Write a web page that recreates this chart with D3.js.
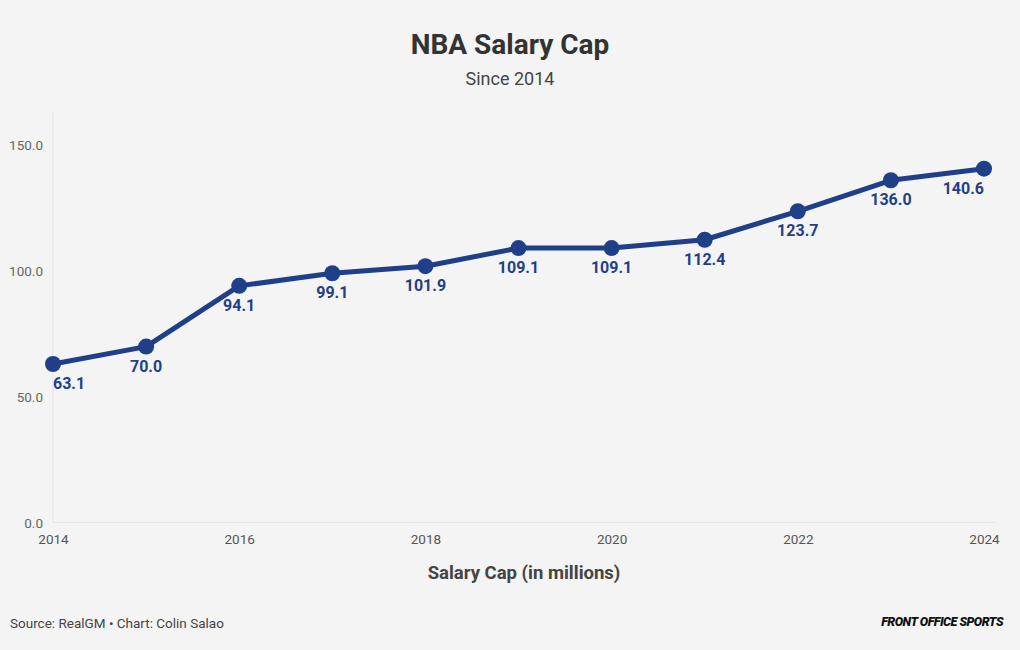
<!DOCTYPE html>
<html><head><meta charset="utf-8">
<script src="https://cdn.jsdelivr.net/npm/d3@7"></script>
<style>
body{margin:0;background:#f4f4f4;}
svg{display:block;font-family:Roboto,"Noto Sans",sans-serif;}
</style></head><body>
<svg id="c" width="1020" height="650"></svg>
<script>
const years = [2014,2015,2016,2017,2018,2019,2020,2021,2022,2023,2024];
const salaryCap = [63.1,70.0,94.1,99.1,101.9,109.1,109.1,112.4,123.7,136.0,140.6];
const yTicks = [0,50,100,150];
const xTicks = [2014,2016,2018,2020,2022,2024];

const svg = d3.select("#c");
svg.append("rect").attr("width",1020).attr("height",650).attr("fill","#f4f4f4");

const x = d3.scaleLinear().domain([2014,2024]).range([53,984]);
const y = d3.scaleLinear().domain([0,150]).range([523,145]);

svg.append("text").attr("x",510).attr("y",54).attr("text-anchor","middle")
  .attr("font-size",28).attr("font-weight",700).attr("fill","#333").text("NBA Salary Cap");
svg.append("text").attr("x",510).attr("y",85).attr("text-anchor","middle")
  .attr("font-size",18).attr("fill","#444").text("Since 2014");

// grid
svg.append("line").attr("x1",53).attr("x2",53).attr("y1",112).attr("y2",522)
  .attr("stroke","#e6e6e6").attr("stroke-width",1);
svg.append("line").attr("x1",53).attr("x2",996).attr("y1",522.5).attr("y2",522.5)
  .attr("stroke","#e6e6e6").attr("stroke-width",1);

// y axis
const ya = svg.append("g").attr("transform","translate(43,0)")
  .call(d3.axisLeft(y).tickValues(yTicks).tickFormat(d3.format(".1f")).tickSize(0).tickPadding(0));
ya.select(".domain").remove();
ya.selectAll("text").attr("font-size",13.5).attr("fill","#666").attr("font-family","Roboto,sans-serif");

// x axis
const xa = svg.append("g").attr("transform","translate(0,534)")
  .call(d3.axisBottom(x).tickValues(xTicks).tickFormat(d3.format("d")).tickSize(0).tickPadding(0));
xa.select(".domain").remove();
xa.selectAll("text").attr("font-size",13.5).attr("fill","#555").attr("font-family","Roboto,sans-serif");

const data = years.map((yr,i)=>({yr,v:salaryCap[i]}));
const col = "#1f3f88";
svg.append("path").datum(data)
  .attr("d",d3.line().x(d=>x(d.yr)).y(d=>y(d.v)))
  .attr("fill","none").attr("stroke",col).attr("stroke-width",5).attr("stroke-linejoin","round");
svg.selectAll("circle.pt").data(data).join("circle").attr("class","pt")
  .attr("cx",d=>x(d.yr)).attr("cy",d=>y(d.v)).attr("r",8).attr("fill",col);
svg.selectAll("text.lbl").data(data).join("text").attr("class","lbl")
  .attr("x",(d,i)=>x(d.yr)).attr("y",d=>y(d.v)+25)
  .attr("text-anchor",(d,i)=>i===0?"start":(i===data.length-1?"end":"middle"))
  .attr("font-size",16).attr("font-weight",700).attr("fill",col)
  .text(d=>d.v.toFixed(1));

svg.append("text").attr("x",524).attr("y",579).attr("text-anchor","middle")
  .attr("font-size",18.5).attr("font-weight",700).attr("fill","#444").text("Salary Cap (in millions)");

svg.append("text").attr("x",10).attr("y",628).attr("font-size",13.5).attr("fill","#444")
  .text("Source: RealGM • Chart: Colin Salao");
svg.append("text").attr("x",1003).attr("y",626).attr("text-anchor","end")
  .attr("font-size",12.5).attr("font-weight",900).attr("font-style","italic").attr("letter-spacing","-0.5")
  .attr("fill","#111").text("FRONT OFFICE SPORTS");
</script></body></html>
